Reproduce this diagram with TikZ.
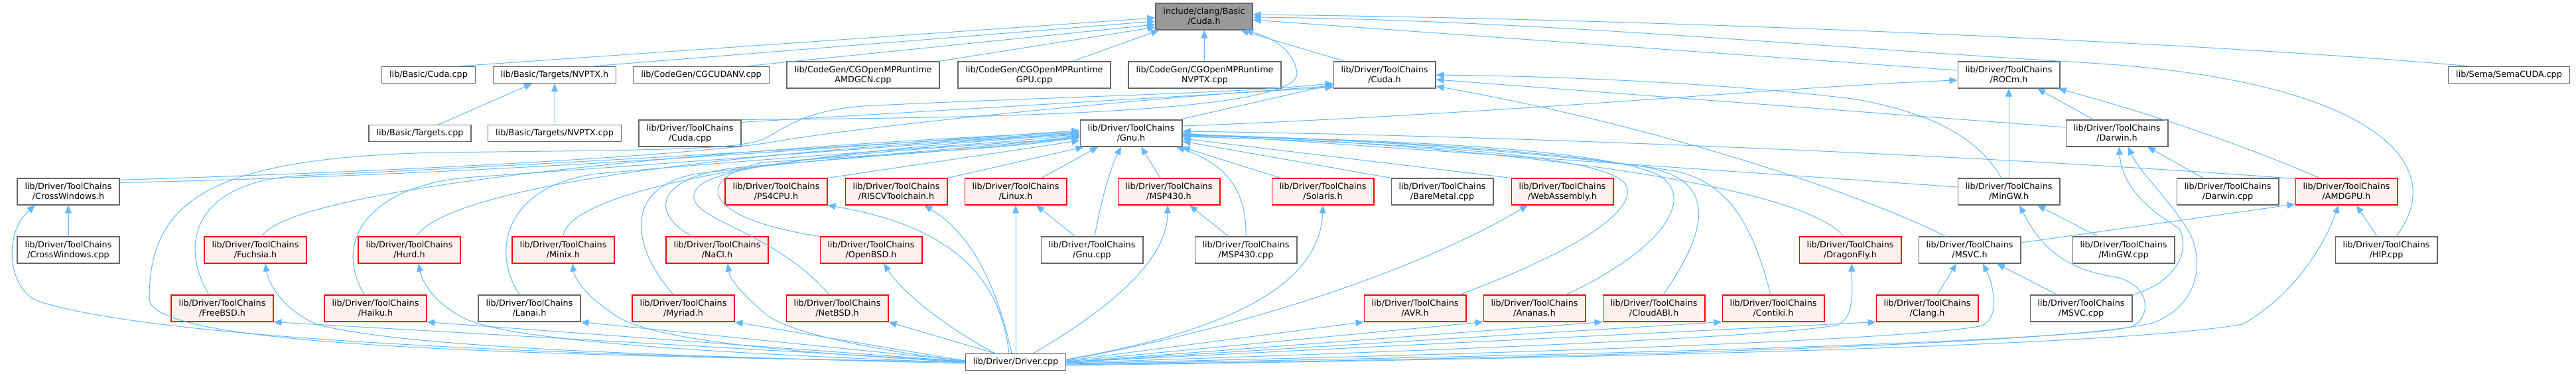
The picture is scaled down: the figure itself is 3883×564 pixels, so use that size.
\documentclass[tikz,border=0pt]{standalone}
\usepackage{fontspec}
\setmainfont{DejaVu Sans}
\usepackage{tikz}
\usetikzlibrary{arrows.meta}
\definecolor{depblue}{RGB}{99,184,255}
\definecolor{boxgray}{RGB}{102,102,102}
\definecolor{rootgray}{RGB}{153,153,153}
\definecolor{cutred}{RGB}{255,0,0}
\definecolor{cutfill}{RGB}{255,240,240}
\newcommand{\filefont}{\fontsize{12.75}{15}\selectfont}
\newcommand{\tcdir}{lib/Driver/ToolChains\\}

\begin{document}
\begin{tikzpicture}[x=1pt, y=-1pt,
    file/.style={draw=boxgray, fill=white, line width=1.2pt, align=center, inner xsep=11.5pt, inner ysep=0pt, minimum height=40pt, font=\filefont},
    oneline/.style={minimum height=25pt},
    cut/.style={draw=cutred, fill=cutfill},
    focus/.style={fill=rootgray},
    dep/.style={draw=depblue, line width=1pt, -{Triangle[length=12pt,width=10pt]}}]
    \useasboundingbox (0,0) rectangle (3883,564);

    % row 0 and 1
    \node[file, focus] (root) at (1815,25) {include/clang/Basic\\/Cuda.h};
    \node[file, oneline] (bcuda) at (646,113) {lib/Basic/Cuda.cpp};
    \node[file, oneline] (nvptxh) at (836,113) {lib/Basic/Targets/NVPTX.h};
    \node[file, oneline] (cgcudanv) at (1057,113) {lib/CodeGen/CGCUDANV.cpp};
    \node[file] (amdgcn) at (1301,113) {lib/CodeGen/CGOpenMPRuntime\\AMDGCN.cpp};
    \node[file] (ompgpu) at (1559,113) {lib/CodeGen/CGOpenMPRuntime\\GPU.cpp};
    \node[file] (ompnvptx) at (1816,113) {lib/CodeGen/CGOpenMPRuntime\\NVPTX.cpp};
    \node[file] (tccudah) at (2087,113) {\tcdir/Cuda.h};
    \node[file] (rocmh) at (3028,113) {\tcdir/ROCm.h};
    \node[file, oneline] (semacuda) at (3782,113) {lib/Sema/SemaCUDA.cpp};

    % row 2 and 3
    \node[file, oneline] (targetscpp) at (633,201) {lib/Basic/Targets.cpp};
    \node[file, oneline] (nvptxcpp) at (836,201) {lib/Basic/Targets/NVPTX.cpp};
    \node[file] (tccudacpp) at (1040,201) {\tcdir/Cuda.cpp};
    \node[file] (gnuh) at (1705,201) {\tcdir/Gnu.h};
    \node[file] (darwinh) at (3191,201) {\tcdir/Darwin.h};
    \node[file] (crosswinh) at (103,289) {\tcdir/CrossWindows.h};
    \node[file, cut] (ps4cpuh) at (1170,289) {\tcdir/PS4CPU.h};
    \node[file, cut] (riscvh) at (1351,289) {\tcdir/RISCVToolchain.h};
    \node[file, cut] (linuxh) at (1531,289) {\tcdir/Linux.h};
    \node[file, cut] (msp430h) at (1762,289) {\tcdir/MSP430.h};
    \node[file, cut] (solarish) at (1994,289) {\tcdir/Solaris.h};
    \node[file] (baremetal) at (2174,289) {\tcdir/BareMetal.cpp};
    \node[file, cut] (wasmh) at (2355,289) {\tcdir/WebAssembly.h};
    \node[file] (mingwh) at (3028,289) {\tcdir/MinGW.h};
    \node[file] (darwincpp) at (3358,289) {\tcdir/Darwin.cpp};
    \node[file, cut] (amdgpuh) at (3537,289) {\tcdir/AMDGPU.h};

    % row 4 and 5
    \node[file] (crosswincpp) at (103,377) {\tcdir/CrossWindows.cpp};
    \node[file, cut] (fuchsiah) at (385,377) {\tcdir/Fuchsia.h};
    \node[file, cut] (hurdh) at (617,377) {\tcdir/Hurd.h};
    \node[file, cut] (minixh) at (849,377) {\tcdir/Minix.h};
    \node[file, cut] (naclh) at (1081,377) {\tcdir/NaCl.h};
    \node[file, cut] (openbsdh) at (1313,377) {\tcdir/OpenBSD.h};
    \node[file] (gnucpp) at (1646,377) {\tcdir/Gnu.cpp};
    \node[file] (msp430cpp) at (1878,377) {\tcdir/MSP430.cpp};
    \node[file, cut] (dragonflyh) at (2789,377) {\tcdir/DragonFly.h};
    \node[file] (msvch) at (2969,377) {\tcdir/MSVC.h};
    \node[file] (mingwcpp) at (3201,377) {\tcdir/MinGW.cpp};
    \node[file] (hipcpp) at (3597,377) {\tcdir/HIP.cpp};
    \node[file, cut] (freebsdh) at (335,465) {\tcdir/FreeBSD.h};
    \node[file, cut] (haikuh) at (566,465) {\tcdir/Haiku.h};
    \node[file] (lanaih) at (798,465) {\tcdir/Lanai.h};
    \node[file, cut] (myriadh) at (1030,465) {\tcdir/Myriad.h};
    \node[file, cut] (netbsdh) at (1262,465) {\tcdir/NetBSD.h};
    \node[file, cut] (avrh) at (2133,465) {\tcdir/AVR.h};
    \node[file, cut] (ananash) at (2313,465) {\tcdir/Ananas.h};
    \node[file, cut] (cloudabih) at (2493,465) {\tcdir/CloudABI.h};
    \node[file, cut] (contikih) at (2673,465) {\tcdir/Contiki.h};
    \node[file, cut] (clangh) at (2905,465) {\tcdir/Clang.h};
    \node[file] (msvccpp) at (3137,465) {\tcdir/MSVC.cpp};
    \node[file, oneline] (drivercpp) at (1531,546) {lib/Driver/Driver.cpp};

    % include/clang/Basic/Cuda.h
    \draw[dep] ([xshift=44pt]bcuda.north) -- ([yshift=-2pt]root.west);
    \draw[dep] ([xshift=57pt]nvptxh.north) -- ([yshift=-7pt]root.west);
    \draw[dep] ([xshift=67pt]cgcudanv.north) -- ([yshift=-12pt]root.west);
    \draw[dep] ([xshift=114pt]amdgcn.north) -- ([yshift=-16pt]root.west);
    \draw[dep] ([xshift=58pt]ompgpu.north) -- ([xshift=-68pt]root.south);
    \draw[dep] (ompnvptx) -- (root);
    \draw[dep] ([xshift=-60pt]tccudah.north) -- ([xshift=55pt]root.south);
    \draw[dep] (tccudacpp.north east) .. controls (1500,178) and (1960,170) .. (1955,110) .. controls (1950,75) and (1920,58) .. ([xshift=62pt]root.south);
    \draw[dep] ([yshift=7pt]rocmh.west) -- ([yshift=-5pt]root.east);
    \draw[dep] ([xshift=15pt]hipcpp.north) .. controls (3700,240) and (3560,120) .. (3150,95) .. controls (2700,68) and (2300,30) .. ([yshift=-1pt]root.east);
    \draw[dep] ([xshift=-59pt]semacuda.north) .. controls (3400,70) and (2600,30) .. ([yshift=3pt]root.east);
    \draw[dep] ([xshift=28pt]targetscpp.north) -- ([xshift=-34pt]nvptxh.south);
    \draw[dep] (nvptxcpp) -- (nvptxh);

    % ToolChains/Cuda.h
    \draw[dep] ([yshift=-4pt]tccudacpp.north east) -- ([yshift=2pt]tccudah.south west);
    \draw[dep] ([xshift=-5pt]gnuh.north east) -- ([yshift=6pt]tccudah.south west);
    \draw[dep] ([yshift=-3pt]crosswinh.north east) .. controls (700,255) and (1050,232) .. (1160,215) .. controls (1300,190) and (1700,150) .. ([yshift=4pt]tccudah.south west);
    \draw[dep] ([yshift=9pt]darwinh.west) -- ([yshift=-7pt]tccudah.east);
    \draw[dep] ([xshift=-11pt]mingwh.north) .. controls (2985,215) and (2930,175) .. (2800,150) .. controls (2600,125) and (2350,115) .. (tccudah.east);
    \draw[dep] ([xshift=-36pt]msvch.north) .. controls (2800,290) and (2500,190) .. ([yshift=-17pt]tccudah.east);
    \draw[dep] (drivercpp.west) .. controls (800,535) and (225,525) .. (225,450) .. controls (225,300) and (320,238) .. (660,230) .. controls (1000,226) and (1110,226) .. (1150,210) .. controls (1190,190) and (1210,168) .. (1300,160) .. controls (1600,145) and (1850,142) .. ([yshift=8pt]tccudah.south west);

    % ToolChains/Gnu.h
    \draw[dep] ([yshift=-7pt]crosswinh.north east) .. controls (800,262) and (1300,218) .. ([yshift=4pt]gnuh.west);
    \draw[dep] ([xshift=10pt]fuchsiah.north) .. controls (440,280) and (1100,222) .. ([yshift=2pt]gnuh.west);
    \draw[dep] ([xshift=-20pt]freebsdh.north) .. controls (270,370) and (290,275) .. (450,265) .. controls (900,245) and (1300,218) .. ([yshift=1pt]gnuh.west);
    \draw[dep] ([xshift=-17pt]haikuh.north) .. controls (500,360) and (560,282) .. (700,268) .. controls (1100,240) and (1350,220) .. (gnuh.west);
    \draw[dep] ([xshift=10pt]hurdh.north) .. controls (680,280) and (1100,228) .. ([yshift=-1pt]gnuh.west);
    \draw[dep] (minixh.north) .. controls (855,285) and (1200,228) .. ([yshift=-2pt]gnuh.west);
    \draw[dep] ([xshift=-15pt]lanaih.north) .. controls (740,380) and (760,280) .. (900,262) .. controls (1200,235) and (1450,220) .. ([yshift=-3pt]gnuh.west);
    \draw[dep] ([xshift=-15pt]myriadh.north) .. controls (950,370) and (940,282) .. (1050,262) .. controls (1300,232) and (1500,222) .. ([yshift=-4pt]gnuh.west);
    \draw[dep] ([xshift=-38pt]naclh.north) .. controls (970,315) and (1000,262) .. (1120,252) .. controls (1350,232) and (1500,224) .. ([yshift=-5pt]gnuh.west);
    \draw[dep] (openbsdh.north west) .. controls (1060,330) and (1040,270) .. (1150,245) .. controls (1400,228) and (1520,224) .. ([yshift=-6pt]gnuh.west);
    \draw[dep] ([xshift=-12pt]netbsdh.north) .. controls (1160,340) and (1020,330) .. (1050,285) .. controls (1080,240) and (1400,224) .. ([yshift=-7pt]gnuh.west);
    \draw[dep] (ps4cpuh.north east) -- ([yshift=-11pt]gnuh.west);
    \draw[dep] (riscvh.north east) -- ([xshift=6pt]gnuh.south west);
    \draw[dep] ([xshift=39pt]linuxh.north) -- ([xshift=-50pt]gnuh.south);
    \draw[dep] ([xshift=4pt]gnucpp.north) .. controls (1660,300) and (1675,250) .. ([xshift=-15pt]gnuh.south);
    \draw[dep] ([xshift=-13pt]msp430h.north) -- ([xshift=15pt]gnuh.south);
    \draw[dep] (msp430cpp.north) .. controls (1880,280) and (1840,245) .. ([xshift=-9pt]gnuh.south east);
    \draw[dep] ([xshift=-64pt]solarish.north) -- ([xshift=-1pt]gnuh.south east);
    \draw[dep] (baremetal.north west) -- ([yshift=-12pt]gnuh.east);
    \draw[dep] (wasmh.north west) -- ([yshift=-8pt]gnuh.east);
    \draw[dep] ([xshift=67pt]avrh.north) .. controls (2400,370) and (2470,310) .. (2450,278) .. controls (2420,232) and (2100,215) .. ([yshift=-5pt]gnuh.east);
    \draw[dep] ([xshift=47pt]ananash.north) .. controls (2500,380) and (2560,300) .. (2500,264) .. controls (2420,225) and (2100,210) .. ([yshift=-4pt]gnuh.east);
    \draw[dep] ([xshift=14pt]cloudabih.north) .. controls (2580,340) and (2585,270) .. (2480,252) .. controls (2300,222) and (2000,208) .. ([yshift=-3pt]gnuh.east);
    \draw[dep] ([xshift=-4pt]contikih.north) .. controls (2640,330) and (2600,272) .. (2520,257) .. controls (2300,225) and (2000,208) .. ([yshift=-2pt]gnuh.east);
    \draw[dep] ([xshift=-10pt]dragonflyh.north) .. controls (2720,282) and (2300,222) .. ([yshift=-1pt]gnuh.east);
    \draw[dep] ([yshift=7pt]mingwh.west) -- (gnuh.east);
    \draw[dep] ([yshift=-1pt]amdgpuh.north west) .. controls (3000,235) and (2300,205) .. ([yshift=3pt]gnuh.east);

    % ROCm.h, Darwin.h and the other headers
    \draw[dep] ([yshift=11pt]gnuh.east) .. controls (2300,170) and (2700,130) .. ([yshift=-8pt]rocmh.west);
    \draw[dep] ([xshift=-35pt]darwinh.north) -- ([xshift=43pt]rocmh.south);
    \draw[dep] (mingwh) -- (rocmh);
    \draw[dep] ([xshift=-41pt]amdgpuh.north) .. controls (3350,205) and (3200,160) .. ([xshift=-3pt]rocmh.south east);
    \draw[dep] ([xshift=-37pt]darwincpp.north) -- ([xshift=46pt]darwinh.south);
    \draw[dep] (msvccpp.north east) .. controls (3270,430) and (3305,385) .. (3285,345) .. controls (3250,322) and (3200,290) .. ([xshift=3pt]darwinh.south);
    \draw[dep] ([xshift=-39pt]mingwcpp.north) -- ([xshift=43pt]mingwh.south);
    \draw[dep] ([yshift=11pt]msvch.east) -- ([yshift=-19pt]amdgpuh.west);
    \draw[dep] ([xshift=-14pt]hipcpp.north) -- ([xshift=15pt]amdgpuh.south);
    \draw[dep] ([xshift=15pt]clangh.north) -- ([xshift=-20pt]msvch.south);
    \draw[dep] ([xshift=-36pt]msvccpp.north) -- ([xshift=41pt]msvch.south);
    \draw[dep] ([xshift=-25pt]gnucpp.north) -- ([xshift=31pt]linuxh.south);
    \draw[dep] ([xshift=-26pt]msp430cpp.north) -- ([xshift=31pt]msp430h.south);
    \draw[dep] (crosswincpp) -- (crosswinh);

    % lib/Driver/Driver.cpp
    \draw[dep] (drivercpp.west) .. controls (900,538) and (250,515) .. (60,455) .. controls (10,438) and (5,350) .. ([xshift=-50pt]crosswinh.south);
    \draw[dep] ([yshift=-2pt]drivercpp.west) .. controls (900,535) and (600,520) .. (480,490) .. controls (430,470) and (405,430) .. ([xshift=15pt]fuchsiah.south);
    \draw[dep] ([yshift=-1pt]drivercpp.west) .. controls (1000,530) and (760,510) .. (700,480) .. controls (650,455) and (635,420) .. ([xshift=14pt]hurdh.south);
    \draw[dep] (drivercpp.west) .. controls (1150,530) and (990,510) .. (935,480) .. controls (885,450) and (866,420) .. ([xshift=14pt]minixh.south);
    \draw[dep] ([yshift=1pt]drivercpp.west) .. controls (1300,525) and (1180,500) .. (1150,470) .. controls (1115,440) and (1100,420) .. ([xshift=16pt]naclh.south);
    \draw[dep] ([yshift=1pt]drivercpp.west) -- (freebsdh.south east);
    \draw[dep] ([yshift=1pt]drivercpp.west) -- (haikuh.south east);
    \draw[dep] ([yshift=2pt]drivercpp.west) -- (lanaih.south east);
    \draw[dep] ([yshift=2pt]drivercpp.west) -- (myriadh.south east);
    \draw[dep] ([xshift=-31pt]drivercpp.north) -- (netbsdh.south east);
    \draw[dep] ([xshift=-31pt]drivercpp.north) .. controls (1420,490) and (1360,440) .. ([xshift=19pt]openbsdh.south);
    \draw[dep] ([xshift=-10pt]drivercpp.north) .. controls (1510,440) and (1460,345) .. (ps4cpuh.south east);
    \draw[dep] ([xshift=-6pt]drivercpp.north) .. controls (1500,420) and (1460,350) .. ([xshift=42pt]riscvh.south);
    \draw[dep] (drivercpp) -- (linuxh);
    \draw[dep] ([xshift=26pt]drivercpp.north) .. controls (1700,450) and (1760,380) .. ([xshift=-2pt]msp430h.south);
    \draw[dep] ([yshift=4pt]drivercpp.east) .. controls (1850,500) and (1990,430) .. (solarish.south);
    \draw[dep] ([yshift=3pt]drivercpp.east) .. controls (1900,490) and (2150,400) .. ([xshift=-52pt]wasmh.south);
    \draw[dep] ([yshift=2pt]drivercpp.east) -- (avrh.south west);
    \draw[dep] ([yshift=1pt]drivercpp.east) -- (ananash.south west);
    \draw[dep] (drivercpp.east) -- (cloudabih.south west);
    \draw[dep] (drivercpp.east) -- (contikih.south west);
    \draw[dep] (drivercpp.east) -- (clangh.south west);
    \draw[dep] ([yshift=-1pt]drivercpp.east) .. controls (2300,525) and (2700,505) .. (2770,490) .. controls (2795,480) and (2792,440) .. ([xshift=2pt]dragonflyh.south);
    \draw[dep] ([yshift=-2pt]drivercpp.east) .. controls (2500,530) and (2950,505) .. (2990,490) .. controls (3015,475) and (3005,430) .. ([xshift=20pt]msvch.south);
    \draw[dep] ([yshift=-3pt]drivercpp.east) .. controls (2800,530) and (3180,505) .. (3215,492) .. controls (3245,475) and (3240,430) .. (3190,418) .. controls (3100,405) and (3070,360) .. ([xshift=16pt]mingwh.south);
    \draw[dep] ([yshift=-4pt]drivercpp.east) .. controls (2800,535) and (3200,505) .. (3250,485) .. controls (3310,460) and (3325,400) .. (3300,350) .. controls (3270,300) and (3225,260) .. ([xshift=17pt]darwinh.south);
    \draw[dep] ([yshift=-5pt]drivercpp.east) .. controls (2800,535) and (3250,512) .. (3380,489) .. controls (3450,450) and (3500,380) .. ([xshift=-12pt]amdgpuh.south);
\end{tikzpicture}
\end{document}
